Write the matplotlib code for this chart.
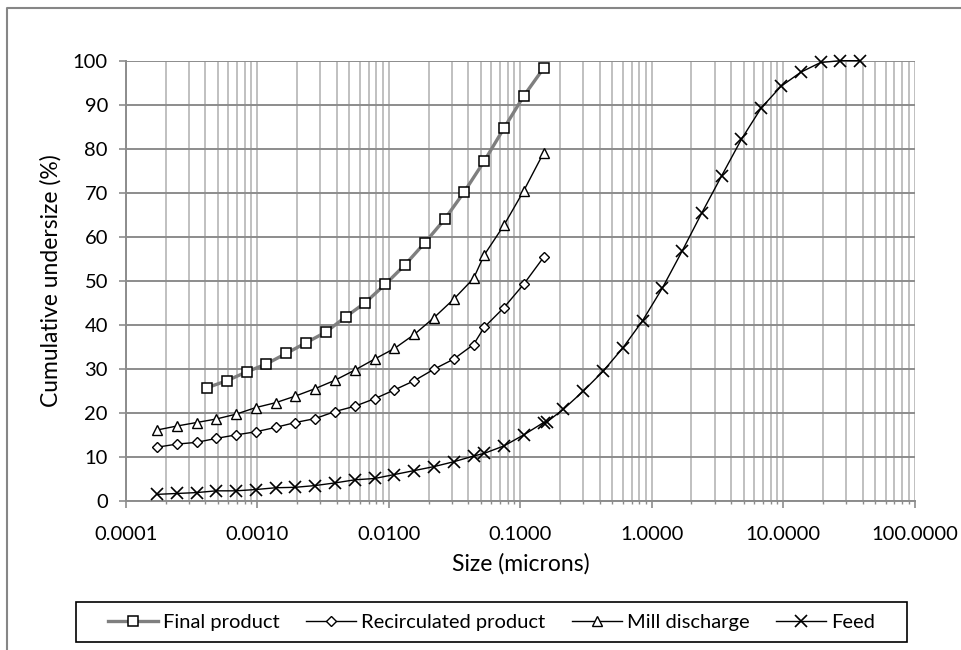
import numpy as np
import matplotlib.pyplot as plt
from matplotlib.lines import Line2D
from matplotlib.patches import Rectangle
from matplotlib.ticker import FixedLocator, LogLocator, FormatStrFormatter, NullFormatter

# Particle sizes (microns)
final_size = [0.000414, 0.000586, 0.00083, 0.00117, 0.00166, 0.00234, 0.0033, 0.0047,
              0.0066, 0.0094, 0.01326, 0.01875, 0.0265, 0.0375, 0.053, 0.075, 0.106, 0.15]
final_pass = [25.8, 27.4, 29.4, 31.2, 33.6, 36.0, 38.4, 41.9, 45.1, 49.3, 53.7, 58.7,
              64.0, 70.3, 77.2, 84.7, 92.0, 98.3]

circuit_size = [0.000172, 0.000243, 0.000344, 0.000486, 0.000688, 0.000972, 0.001375,
                0.00194, 0.00275, 0.00389, 0.0055, 0.00778, 0.011, 0.0156, 0.022, 0.0311,
                0.044, 0.053, 0.075, 0.106, 0.15]
recirc_pass = [12.3, 13.0, 13.4, 14.3, 15.1, 15.8, 16.8, 17.9, 18.8, 20.4, 21.6, 23.3,
               25.3, 27.4, 30.0, 32.3, 35.6, 39.5, 44.0, 49.3, 55.4]
mill_pass = [16.2, 17.1, 17.9, 18.7, 19.8, 21.3, 22.4, 23.9, 25.6, 27.5, 29.8, 32.3,
             34.7, 37.9, 41.7, 45.9, 50.6, 55.9, 62.7, 70.5, 79.1]

feed_size = [0.000172, 0.000243, 0.000344, 0.000486, 0.000688, 0.000972, 0.001375,
             0.00194, 0.00275, 0.00389, 0.0055, 0.00778, 0.011, 0.0156, 0.022, 0.0311,
             0.044, 0.053, 0.075, 0.106, 0.15, 0.16, 0.212, 0.3, 0.424, 0.6, 0.849, 1.2,
             1.697, 2.4, 3.394, 4.8, 6.788, 9.6, 13.58, 19.2, 27.15, 38.4]
feed_pass = [1.6, 1.8, 2.0, 2.4, 2.4, 2.7, 3.1, 3.2, 3.6, 4.2, 4.9, 5.2, 6.1, 7.0, 7.9,
             9.0, 10.3, 10.9, 12.6, 15.1, 17.9, 18.1, 20.9, 25.0, 29.5, 34.8, 41.0, 48.4,
             56.8, 65.5, 73.9, 82.2, 89.3, 94.2, 97.4, 99.6, 100.0, 100.0]

x_ticks = [0.0001, 0.001, 0.01, 0.1, 1, 10, 100]
y_ticks = list(range(0, 101, 10))

plt.rcParams['font.family'] = ['Lato', 'DejaVu Sans']

fig = plt.figure(figsize=(9.62, 6.5), dpi=100)
ax = fig.add_axes([0.131, 0.2286, 0.82, 0.678])

# Series
ax.plot(final_size, final_pass, color='#7f7f7f', lw=2.4, marker='s', ms=7.2,
        mfc='white', mec='black', mew=1.1, label='Final product', clip_on=False, zorder=3)
ax.plot(circuit_size, recirc_pass, color='black', lw=1.0, marker='D', ms=5,
        mfc='white', mec='black', mew=1.0, label='Recirculated product', clip_on=False, zorder=3)
ax.plot(circuit_size, mill_pass, color='black', lw=1.0, marker='^', ms=7.5,
        mfc='white', mec='black', mew=1.0, label='Mill discharge', clip_on=False, zorder=3)
ax.plot(feed_size, feed_pass, color='black', lw=1.0, marker='x', ms=9,
        mec='black', mew=1.2, label='Feed', clip_on=False, zorder=3)

ax.set_xscale('log')
ax.set_xlim(1e-4, 1e2)
ax.set_ylim(0, 100)
ax.xaxis.set_major_locator(FixedLocator(x_ticks))
ax.xaxis.set_major_formatter(FormatStrFormatter('%.4f'))
ax.xaxis.set_minor_locator(LogLocator(base=10, subs=np.arange(2, 10), numticks=20))
ax.xaxis.set_minor_formatter(NullFormatter())
ax.yaxis.set_major_locator(FixedLocator(y_ticks))

# Grid lines
ax.grid(which='major', axis='y', color='#8c8c8c', lw=1.4)
ax.grid(which='both', axis='x', color='#c0c0c0', lw=1.4)
ax.set_axisbelow(True)

for side in ['top', 'right']:
    ax.spines[side].set_visible(False)
for side in ['left', 'bottom']:
    ax.spines[side].set_color('#8c8c8c')
    ax.spines[side].set_linewidth(1.4)

ax.tick_params(axis='both', which='major', direction='out', length=5, width=1.2,
               color='#8c8c8c', labelsize=14.5, labelcolor='black')
ax.tick_params(axis='x', which='major', pad=13)
ax.tick_params(axis='y', which='major', pad=8)
ax.tick_params(axis='x', which='minor', direction='out', length=2.5, width=1.0, color='#8c8c8c')

ax.set_xlabel('Size (microns)', fontsize=16.5, labelpad=7)
ax.set_ylabel('Cumulative undersize (%)', fontsize=16.5, labelpad=8)

leg = ax.legend(loc='center', bbox_to_anchor=(0.511, 0.043), bbox_transform=fig.transFigure,
                ncol=4, fontsize=14.5, frameon=False,
                handlelength=2.5, handletextpad=0.25, columnspacing=1.3)

# Legend frame (wider than the entries, as in the source chart)
fig.add_artist(Rectangle((76 / 962, 1 - 642 / 650), (907 - 76) / 962, 40 / 650,
                         transform=fig.transFigure, fill=False, edgecolor='black', lw=1.2))

# Outer chart border (left and top edges visible)
fig.add_artist(Line2D([7 / 962, 7 / 962, 1.0], [0.0, 1 - 8 / 650, 1 - 8 / 650],
                      transform=fig.transFigure, color='#868686', lw=1.5))

fig.savefig('out.png', dpi=100)
